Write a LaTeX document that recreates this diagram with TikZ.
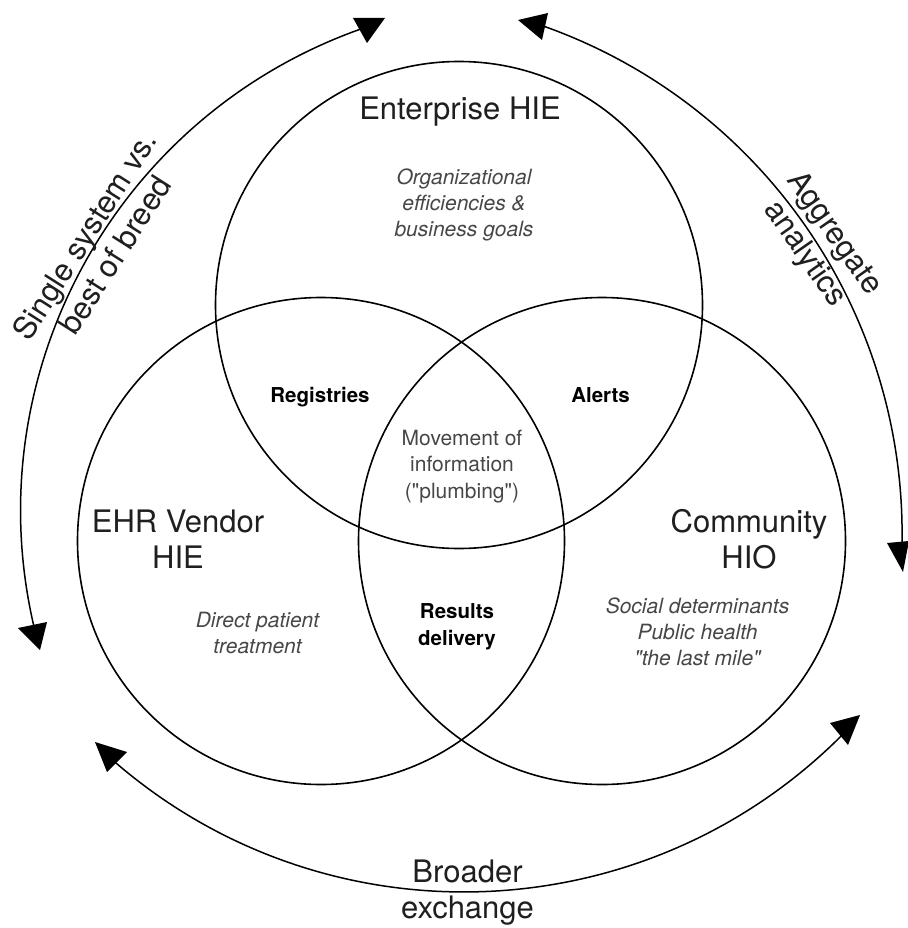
\documentclass[tikz,border=0pt]{standalone}
\usepackage{fontspec}
\setmainfont{TeX Gyre Heros}
\begin{document}
\begin{tikzpicture}[x=1pt,y=-1pt]
\tikzset{
  vcircle/.style={draw=black, line width=1.6pt},
  arcline/.style={draw=black, line width=1.5pt},
  ahead/.style={fill=black},
  biglabel/.style={font=\fontsize{31}{36}\selectfont, text=black!88, align=center, inner sep=0pt},
  itlabel/.style={font=\fontsize{21}{26}\selectfont\itshape, text=black!72, align=center, inner sep=0pt},
  boldlabel/.style={font=\fontsize{20.5}{27}\selectfont\bfseries, text=black, align=center, inner sep=0pt},
  movlabel/.style={font=\fontsize{21}{26.5}\selectfont, text=black!72, align=center, inner sep=0pt},
}
\fill[white] (0,0) rectangle (907,928);
\useasboundingbox (0,0) rectangle (907,928);

% circles
\draw[vcircle] (459,305) circle[radius=243.5];
\draw[vcircle] (321,541) circle[radius=243.5];
\draw[vcircle] (602,541) circle[radius=243.5];

% outer arcs
\draw[arcline] (531.6,510.6) ++(165.9:511) arc[start angle=165.9, end angle=250.6, radius=511];
\draw[arcline] (363.4,533.8) ++(-70.86:538.7) arc[start angle=-70.86, end angle=2.25, radius=538.7];
\draw[arcline] (464,358) ++(131.35:534) arc[start angle=131.35, end angle=44.3, radius=534];

% arrowheads
\fill[ahead] (18,628) -- (47,622) -- (40,650) -- cycle;
\fill[ahead] (353,18) -- (385,18) -- (367,43) -- cycle;
\fill[ahead] (518,20) -- (548,13) -- (542,40) -- cycle;
\fill[ahead] (887,543) -- (909,541) -- (903,572) -- cycle;
\fill[ahead] (95,742) -- (127,752) -- (107,772) -- cycle;
\fill[ahead] (830,723) -- (860,715) -- (848,745) -- cycle;

% main labels (base = baseline of last line)
\node[biglabel, anchor=base] (ent) at (460,120) {Enterprise HIE};
\node[biglabel, anchor=base] (ehr) at (178,568) {EHR Vendor\\HIE};
\node[biglabel, anchor=base] (com) at (749,568) {Community\\HIO};
\node[biglabel, anchor=base] (broad) at (467.5,918) {Broader\\exchange};
\node[biglabel, rotate=57.5] (single) at (99.5,245) {Single system vs.\\best of breed};
\node[biglabel, rotate=-55] (aggr) at (819,244) {Aggregate\\analytics};

% descriptions
\node[itlabel, anchor=base] (entd) at (464,236) {Organizational\\efficiencies \&\\business goals};
\node[itlabel, anchor=base] (ehrd) at (257.5,653) {Direct patient\\treatment};
\node[itlabel, anchor=base] (comd) at (697.5,665) {Social determinants\\Public health\\\textquotedbl the last mile\textquotedbl};

% overlaps
\node[boldlabel, anchor=base] (reg) at (320,402) {Registries};
\node[boldlabel, anchor=base] (alr) at (600.5,402) {Alerts};
\node[boldlabel, anchor=base] (res) at (457,645) {Results\\delivery};
\node[movlabel, anchor=base] (mov) at (462,498) {Movement of\\information\\(\textquotedbl plumbing\textquotedbl)};
\end{tikzpicture}
\end{document}
